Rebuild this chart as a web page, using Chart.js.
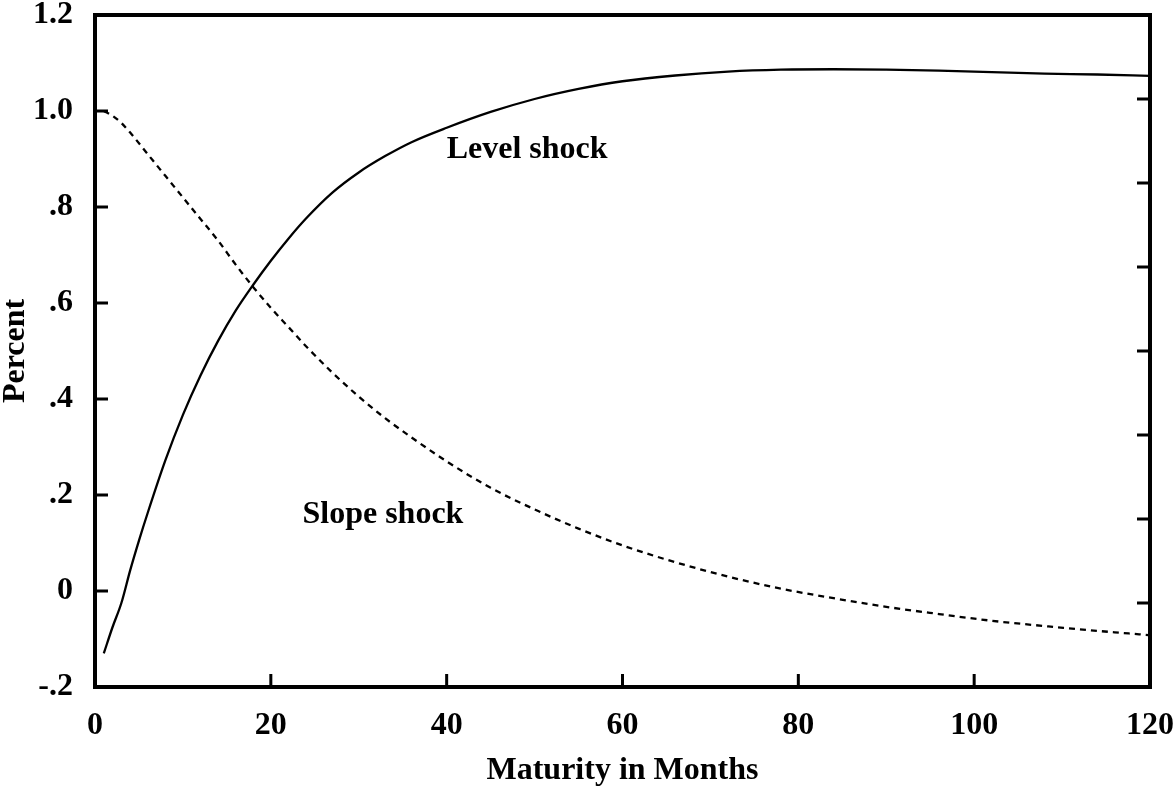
<!DOCTYPE html>
<html>
<head>
<meta charset="utf-8">
<script src="https://cdn.jsdelivr.net/npm/chart.js@4"></script>
<style>
  html, body { margin: 0; padding: 0; background: #fff; }
  #wrap { width: 1175px; height: 789px; position: relative; }
</style>
</head>
<body>
<div id="wrap"><canvas id="c" width="1175" height="789"></canvas></div>
<script>
// ---- data ----
const levelMonths = [1, 2, 3, 4, 5, 6, 8, 10, 12, 14, 16, 18, 20, 22, 24, 27, 30, 33, 36, 40, 45, 50, 55, 60, 66, 72, 78, 84, 90, 96, 102, 108, 114, 120];
const levelShock  = [-0.13, -0.075, -0.025, 0.043, 0.105, 0.163, 0.272, 0.367, 0.449, 0.521, 0.584, 0.638, 0.688, 0.734, 0.776, 0.83, 0.872, 0.906, 0.935, 0.965, 0.998, 1.025, 1.046, 1.062, 1.074, 1.082, 1.086, 1.087, 1.086, 1.084, 1.081, 1.078, 1.076, 1.073];
const slopeMonths = [1, 2, 3, 4, 6, 8, 10, 12, 14, 16, 18, 20, 22, 24, 27, 30, 33, 36, 40, 45, 50, 55, 60, 66, 72, 78, 84, 90, 96, 102, 108, 114, 120];
const slopeShock  = [1.0, 0.99, 0.975, 0.955, 0.91, 0.865, 0.82, 0.775, 0.73, 0.68, 0.633, 0.59, 0.55, 0.51, 0.455, 0.405, 0.36, 0.32, 0.27, 0.215, 0.17, 0.13, 0.095, 0.06, 0.03, 0.005, -0.015, -0.033, -0.048, -0.062, -0.073, -0.083, -0.092];
const xTicks = [0, 20, 40, 60, 80, 100, 120];
const yTicks = [-0.2, 0, 0.2, 0.4, 0.6, 0.8, 1.0, 1.2];
const yTickLabels = ['-.2', '0', '.2', '.4', '.6', '.8', '1.0', '1.2'];
const rightTickDivisions = 8;
const seriesNames = ['Level shock', 'Slope shock'];
const labelAnchors = [{ x: 40, y: 0.902 }, { x: 23.6, y: 0.1417 }];
const xTitle = 'Maturity in Months';
const yTitle = 'Percent';

const FONT = '"Liberation Serif", "Times New Roman", serif';

const framePlugin = {
  id: 'frame',
  afterDatasetsDraw(chart) {
    const { ctx, chartArea: a, scales } = chart;
    const xs = scales.x, ys = scales.y;
    ctx.save();
    ctx.strokeStyle = '#000';
    ctx.lineWidth = 3;
    ctx.beginPath();
    yTicks.forEach(v => {
      const p = ys.getPixelForValue(v);
      ctx.moveTo(a.left, p); ctx.lineTo(a.left + 13, p);
    });
    xTicks.forEach(v => {
      const p = xs.getPixelForValue(v);
      ctx.moveTo(p, a.bottom); ctx.lineTo(p, a.bottom - 13);
    });
    for (let k = 1; k < rightTickDivisions; k++) {
      const p = a.top + (a.bottom - a.top) * k / rightTickDivisions;
      ctx.moveTo(a.right, p); ctx.lineTo(a.right - 13, p);
    }
    ctx.stroke();
    ctx.lineWidth = 4;
    ctx.strokeRect(a.left, a.top, a.right - a.left, a.bottom - a.top);
    ctx.fillStyle = '#000';
    ctx.font = 'bold 32px ' + FONT;
    ctx.textAlign = 'left';
    ctx.textBaseline = 'alphabetic';
    labelAnchors.forEach((pos, i) => {
      ctx.fillText(seriesNames[i], xs.getPixelForValue(pos.x), ys.getPixelForValue(pos.y));
    });
    ctx.restore();
  }
};

function noPad(s) {
  s.paddingLeft = 0; s.paddingRight = 0; s.paddingTop = 0; s.paddingBottom = 0;
}

new Chart(document.getElementById('c'), {
  type: 'line',
  data: {
    datasets: [
      {
        label: seriesNames[0],
        data: levelMonths.map((m, i) => ({ x: m, y: levelShock[i] })),
        borderColor: '#000',
        borderWidth: 2.3,
        pointRadius: 0,
        cubicInterpolationMode: 'monotone',
        fill: false
      },
      {
        label: seriesNames[1],
        data: slopeMonths.map((m, i) => ({ x: m, y: slopeShock[i] })),
        borderColor: '#000',
        borderWidth: 2.3,
        borderDash: [6, 5],
        pointRadius: 0,
        cubicInterpolationMode: 'monotone',
        fill: false
      }
    ]
  },
  options: {
    responsive: false,
    animation: false,
    layout: { padding: { top: 15, right: 25, left: 0, bottom: 0 } },
    plugins: { legend: { display: false }, tooltip: { enabled: false } },
    scales: {
      x: {
        type: 'linear',
        min: 0, max: 120,
        afterFit: s => { s.height = 102; noPad(s); },
        afterBuildTicks: s => { s.ticks = xTicks.map(v => ({ value: v })); },
        grid: { display: false, drawTicks: false },
        border: { display: false },
        ticks: {
          color: '#000',
          padding: 20,
          maxRotation: 0,
          font: { family: FONT, size: 32, weight: 'bold' }
        },
        title: {
          display: true,
          text: xTitle,
          color: '#000',
          padding: { top: 0, bottom: 2 },
          font: { family: FONT, size: 32, weight: 'bold', lineHeight: 1 }
        }
      },
      y: {
        type: 'linear',
        min: -0.2, max: 1.2,
        afterFit: s => { s.width = 95; noPad(s); },
        afterBuildTicks: s => { s.ticks = yTicks.map(v => ({ value: v })); },
        grid: { display: false, drawTicks: false },
        border: { display: false },
        ticks: {
          color: '#000',
          padding: 22,
          callback: (v) => {
            const i = yTicks.findIndex(t => Math.abs(t - v) < 1e-9);
            return i >= 0 ? yTickLabels[i] : '';
          },
          font: { family: FONT, size: 32, weight: 'bold' }
        },
        title: {
          display: true,
          text: yTitle,
          color: '#000',
          padding: { top: 0, bottom: 0 },
          font: { family: FONT, size: 32, weight: 'bold', lineHeight: 1 }
        }
      }
    }
  },
  plugins: [framePlugin]
});
</script>
</body>
</html>
